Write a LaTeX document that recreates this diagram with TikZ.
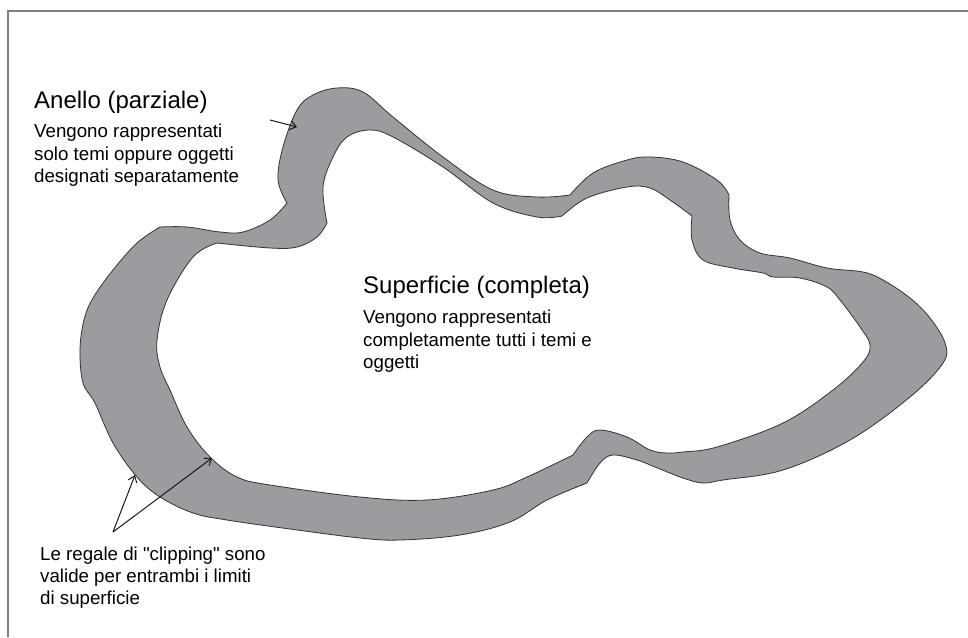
\documentclass[tikz,border=0pt]{standalone}
\usepackage{fontspec}
\setmainfont{Liberation Sans}[Ligatures=TeXOff]
\usetikzlibrary{arrows.meta}
\definecolor{bandgray}{RGB}{154,156,160}
\definecolor{framegray}{RGB}{128,128,128}
\tikzset{
  headtext/.style={anchor=base west, inner sep=0pt, font=\fontsize{24}{28}\selectfont},
  bodytext/.style={anchor=north west, inner sep=0pt, align=left, font=\fontsize{18.7}{22.3}\selectfont},
  pointer/.style={draw=black!90, line width=1pt, -{Straight Barb[length=6pt,width=9pt]}},
  band/.style={fill=bandgray, draw=black!80, line width=0.8pt, even odd rule},
}
\begin{document}
\begin{tikzpicture}[x=1pt,y=-1pt]
\useasboundingbox (0,0) rectangle (968,637);
\fill[white] (0,0) rectangle (968,637);
% frame
\draw[framegray, line width=1.5pt] (8,637) -- (8,11) -- (968,11);
% band (outer minus inner)
\path[band]
  (287,203) -- plot[smooth,tension=0.6] coordinates {(287,203) (278,180) (283,147) (297,110) (313,95) (337,88) (363,92) (393,117) (443,157) (493,190) (537,197) (570,195)}
  -- plot[smooth,tension=0.6] coordinates {(570,195) (593,173) (627,160) (650,157) (683,162) (717,180) (729,195)}
  -- plot[smooth,tension=0.6] coordinates {(729,195) (730,220) (740,240) (760,253) (790,258) (827,268) (863,272) (883,280) (910,298) (930,318) (945,343) (943,363) (910,397) (850,440) (783,470) (723,480) (703,483) (683,478) (655,467) (637,460) (613,455) (600,463) (587,483)}
  -- plot[smooth,tension=0.6] coordinates {(587,483) (547,500) (510,522) (460,535) (400,540) (360,538) (290,529) (227,520) (193,513) (160,497) (137,477) (113,443) (95,403) (83,383) (80,350) (84,320) (93,298) (113,270) (137,243) (160,227)}
  -- plot[smooth,tension=0.6] coordinates {(160,227) (187,227) (220,232) (243,232) (270,220) (287,203)}
  -- cycle
  (327,223) -- plot[smooth,tension=0.6] coordinates {(327,223) (323,187) (333,157) (347,137) (370,130) (393,137) (443,167) (493,203) (537,217) (562,216)}
  -- plot[smooth,tension=0.6] coordinates {(562,216) (587,198) (627,187) (650,188) (670,200) (692,216)}
  -- plot[smooth,tension=0.6] coordinates {(692,216) (692,240) (703,260) (733,268) (763,273) (773,277) (800,278) (827,287) (840,300) (860,327) (870,345) (863,362) (833,390) (783,423) (717,447) (683,452) (667,453) (650,450) (627,437) (600,430) (587,437) (573,455)}
  -- plot[smooth,tension=0.6] coordinates {(573,455) (527,477) (493,490) (427,500) (360,497) (270,485) (237,477) (210,457) (187,427) (170,390) (160,367) (157,340) (167,300) (193,257) (217,243)}
  -- plot[smooth,tension=0.6] coordinates {(217,243) (270,248) (297,247) (317,237) (327,223)}
  -- cycle;
% texts
\node[headtext] (anello) at (34,108) {Anello (parziale)};
\node[bodytext] (anellotxt) at (34,124) {Vengono rappresentati\\solo temi oppure oggetti\\designati separatamente};
\node[headtext] (sup) at (363,293) {Superficie (completa)};
\node[bodytext] (suptxt) at (363,310) {Vengono rappresentati\\completamente tutti i temi e\\oggetti};
\node[bodytext, font=\fontsize{18.7}{21.8}\selectfont] (clip) at (40,547) {Le regale di "clipping" sono\\valide per entrambi i limiti\\di superficie};
% pointers
\coordinate (a0) at (270,120);
\coordinate (a1) at (297,127);
\coordinate (b0) at (113,532);
\coordinate (b1) at (135,475);
\coordinate (b2) at (212,458);
\draw[pointer] (a0) -- (a1);
\draw[pointer] (b0) -- (b1);
\draw[pointer] (b0) -- (b2);
\end{tikzpicture}
\end{document}
